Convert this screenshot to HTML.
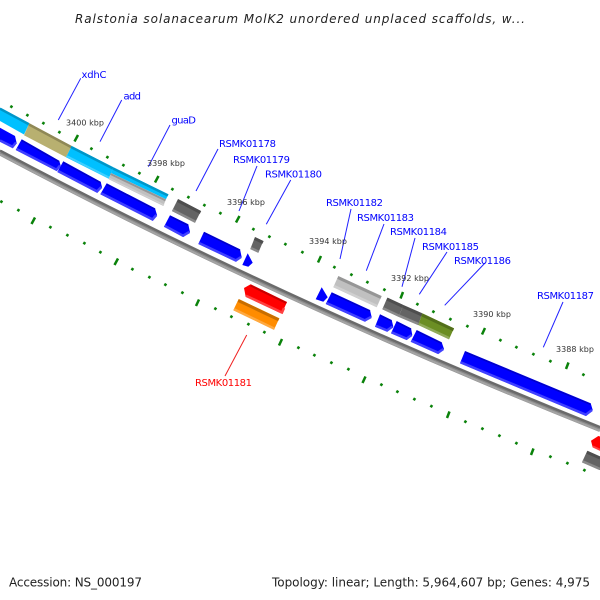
<!DOCTYPE html>
<html><head><meta charset="utf-8"><style>
html,body{margin:0;padding:0;background:#fff}
svg{display:block}
text{font-family:"DejaVu Sans","Liberation Sans",sans-serif}
.l{font-size:10px;fill:#0000ff}
.k{font-size:8px;fill:#333}
.f{font-size:12px;fill:#222}
.d line{stroke:#0a820a;stroke-width:2.6;stroke-linecap:butt}
.m line{stroke:#0a820a;stroke-width:2.5}
.c line{stroke:#2020ff;stroke-width:1}
</style></head><body>
<svg width="600" height="600" viewBox="0 0 600 600" xmlns="http://www.w3.org/2000/svg">
<rect width="600" height="600" fill="#fff"/>
<text x="75" y="23" font-size="12" font-style="italic" fill="#222" textLength="450" lengthAdjust="spacing">Ralstonia solanacearum MolK2 unordered unplaced scaffolds, w...</text>

<!-- backbone -->
<path d="M0,152.5 C200,258.5 400,349 600,429" fill="none" stroke="#888" stroke-width="6"/>
<path d="M0,150.6 C200,256.6 400,347.2 600,427.2" fill="none" stroke="#6a6a6a" stroke-width="2.2"/>
<path d="M0,154.4 C200,260.4 400,350.8 600,430.8" fill="none" stroke="#a4a4a4" stroke-width="2"/>

<!-- outer ticks -->
<g class="d">
<line x1="10.7" y1="107.8" x2="12.1" y2="105.6"/><line x1="26.7" y1="116.3" x2="28.1" y2="114.1"/><line x1="42.7" y1="124.3" x2="44.1" y2="122.1"/><line x1="58.7" y1="133.3" x2="60.1" y2="131.1"/>
<line x1="90.7" y1="149.8" x2="92.1" y2="147.6"/><line x1="106.7" y1="158.3" x2="108.1" y2="156.1"/><line x1="122.7" y1="166.3" x2="124.1" y2="164.1"/><line x1="138.7" y1="174.3" x2="140.1" y2="172.1"/>
<line x1="171.7" y1="190.3" x2="173.1" y2="188.1"/><line x1="187.7" y1="198.3" x2="189.1" y2="196.1"/><line x1="203.7" y1="206.3" x2="205.1" y2="204.1"/><line x1="219.7" y1="214.3" x2="221.1" y2="212.1"/>
<line x1="252.7" y1="230.3" x2="254.1" y2="228.1"/><line x1="268.7" y1="237.8" x2="270.1" y2="235.6"/><line x1="284.7" y1="245.3" x2="286.1" y2="243.1"/><line x1="301.7" y1="253.3" x2="303.1" y2="251.1"/>
<line x1="333.7" y1="268.3" x2="335.1" y2="266.1"/><line x1="350.7" y1="275.8" x2="352.1" y2="273.6"/><line x1="366.7" y1="283.3" x2="368.1" y2="281.1"/><line x1="383.7" y1="290.8" x2="385.1" y2="288.6"/>
<line x1="416.7" y1="305.3" x2="418.1" y2="303.1"/><line x1="432.7" y1="312.8" x2="434.1" y2="310.6"/><line x1="449.7" y1="320.3" x2="451.1" y2="318.1"/><line x1="466.7" y1="327.3" x2="468.1" y2="325.1"/>
<line x1="499.7" y1="341.3" x2="501.1" y2="339.1"/><line x1="515.7" y1="348.3" x2="517.1" y2="346.1"/><line x1="532.7" y1="355.3" x2="534.1" y2="353.1"/><line x1="549.7" y1="362.3" x2="551.1" y2="360.1"/>
<line x1="582.7" y1="375.8" x2="584.1" y2="373.6"/>
<!-- inner ticks -->
<line x1="0.7" y1="202.8" x2="2.1" y2="200.6"/><line x1="17.7" y1="211.3" x2="19.1" y2="209.1"/><line x1="49.7" y1="228.3" x2="51.1" y2="226.1"/><line x1="66.7" y1="236.3" x2="68.1" y2="234.1"/>
<line x1="83.7" y1="244.3" x2="85.1" y2="242.1"/><line x1="99.7" y1="253.3" x2="101.1" y2="251.1"/><line x1="131.7" y1="270.3" x2="133.1" y2="268.1"/><line x1="148.7" y1="278.3" x2="150.1" y2="276.1"/>
<line x1="164.7" y1="285.8" x2="166.1" y2="283.6"/><line x1="181.7" y1="293.8" x2="183.1" y2="291.6"/><line x1="214.7" y1="309.8" x2="216.1" y2="307.6"/><line x1="230.7" y1="317.8" x2="232.1" y2="315.6"/>
<line x1="247.7" y1="325.3" x2="249.1" y2="323.1"/><line x1="263.7" y1="333.3" x2="265.1" y2="331.1"/><line x1="297.7" y1="348.8" x2="299.1" y2="346.6"/><line x1="313.7" y1="356.3" x2="315.1" y2="354.1"/>
<line x1="330.7" y1="363.8" x2="332.1" y2="361.6"/><line x1="347.7" y1="370.3" x2="349.1" y2="368.1"/><line x1="380.7" y1="385.8" x2="382.1" y2="383.6"/><line x1="396.7" y1="392.8" x2="398.1" y2="390.6"/>
<line x1="413.7" y1="400.3" x2="415.1" y2="398.1"/><line x1="430.7" y1="407.3" x2="432.1" y2="405.1"/><line x1="464.7" y1="422.8" x2="466.1" y2="420.6"/><line x1="481.7" y1="429.8" x2="483.1" y2="427.6"/>
<line x1="498.7" y1="436.8" x2="500.1" y2="434.6"/><line x1="515.7" y1="444.3" x2="517.1" y2="442.1"/><line x1="549.7" y1="457.8" x2="551.1" y2="455.6"/><line x1="566.7" y1="464.3" x2="568.1" y2="462.1"/>
<line x1="583.7" y1="471.3" x2="585.1" y2="469.1"/>
</g>
<g class="m">
<line x1="74.5" y1="141.5" x2="78" y2="135"/><line x1="155" y1="182.5" x2="158.5" y2="176"/><line x1="236" y1="222.5" x2="239.5" y2="216"/><line x1="318" y1="262.5" x2="321" y2="256"/>
<line x1="400.5" y1="298.5" x2="403" y2="292"/><line x1="482" y1="334.5" x2="485" y2="328"/><line x1="566" y1="369" x2="568.5" y2="362.5"/>
<line x1="31.5" y1="224" x2="35" y2="217.5"/><line x1="114.5" y1="265" x2="118" y2="258.5"/><line x1="196" y1="306" x2="199" y2="299.5"/><line x1="279" y1="345.5" x2="282" y2="339"/>
<line x1="362.5" y1="383" x2="365.5" y2="376.5"/><line x1="447" y1="418" x2="449.5" y2="411.5"/><line x1="531" y1="455" x2="533.5" y2="448.5"/>
</g>

<!-- upper strand genes -->
<polygon points="0,107.7 29.3,123.3 24,134.5 0,121" fill="#00c0ff"/>
<polyline points="0,108.7 29,124.3" stroke="#0096c8" stroke-width="2.5" fill="none"/>
<polygon points="29.3,123.3 71.7,146 66,157.3 24,135.3" fill="#b8b070"/>
<line x1="29" y1="124.5" x2="71" y2="147" stroke="#8f8856" stroke-width="2.5"/>
<polygon points="71.7,146 113.3,167.3 108.7,178.7 66,157.3" fill="#00c0ff"/>
<line x1="71" y1="147" x2="113" y2="168.5" stroke="#0096c8" stroke-width="2.5"/>
<line x1="66.5" y1="156" x2="109" y2="177.5" stroke="#40d0ff" stroke-width="2"/>
<polygon points="113.3,167.3 168.3,194.3 166,199.3 111,173" fill="#00c0ff"/>
<line x1="113" y1="168.5" x2="168" y2="195.5" stroke="#0096c8" stroke-width="2.5"/>
<polygon points="111,173 166,199.3 163.3,206 108.7,179.3" fill="#c0c0c0"/>
<line x1="110.5" y1="174" x2="165.5" y2="200.3" stroke="#969696" stroke-width="2"/>
<line x1="109.5" y1="178.5" x2="164" y2="205" stroke="#d0d0d0" stroke-width="1.5"/>
<polygon points="178,199 201,211 195,222.7 172,211" fill="#646464"/>
<line x1="177.5" y1="200.5" x2="200.5" y2="212.5" stroke="#4e4e4e" stroke-width="3"/>
<line x1="172.5" y1="210" x2="195.5" y2="221.7" stroke="#8a8a8a" stroke-width="2.5"/>
<polygon points="255,237 263.3,241 258.3,252.7 250.3,249" fill="#646464"/>
<line x1="254.5" y1="238.5" x2="263" y2="242.5" stroke="#4e4e4e" stroke-width="3"/>
<line x1="250.8" y1="248" x2="258.8" y2="251.7" stroke="#8a8a8a" stroke-width="2.5"/>
<polygon points="338.3,276 381.7,296 376.7,307.3 333.3,287.3" fill="#c0c0c0"/>
<line x1="337.8" y1="277.5" x2="381" y2="297.5" stroke="#969696" stroke-width="3"/>
<line x1="334" y1="286" x2="377" y2="306" stroke="#d0d0d0" stroke-width="2.5"/>
<polygon points="387.3,297.7 403.3,305 398.7,316.7 382.3,309.3" fill="#646464"/>
<line x1="387" y1="299" x2="403" y2="306.5" stroke="#4e4e4e" stroke-width="3"/>
<line x1="383" y1="308.3" x2="399" y2="315.7" stroke="#8a8a8a" stroke-width="2.5"/>
<polygon points="403.3,305 422.3,313.3 418.3,325 398.7,316.7" fill="#646464"/>
<line x1="403" y1="306.5" x2="422" y2="315" stroke="#4e4e4e" stroke-width="3"/>
<line x1="399" y1="315.7" x2="418.5" y2="324" stroke="#8a8a8a" stroke-width="2.5"/>
<polygon points="422.3,313.3 454,328.3 449,339.3 418.3,325" fill="#6b8e23"/>
<line x1="422" y1="315" x2="453.5" y2="329.8" stroke="#536f1b" stroke-width="3"/>
<line x1="419" y1="324" x2="449.5" y2="338.3" stroke="#90aa5a" stroke-width="2.5"/>
<polygon points="587.3,450.7 600,456.5 600,470 582,462.3" fill="#646464"/>
<line x1="587" y1="452.2" x2="600" y2="458" stroke="#4e4e4e" stroke-width="3"/>
<line x1="582.5" y1="461.3" x2="600" y2="469" stroke="#8a8a8a" stroke-width="2.5"/>

<!-- blue genes -->
<g stroke="none" fill="#0000ff">
<polygon points="0,127.7 15,136 16.7,143.3 12.7,148 0,141.7"/>
<polygon points="21.7,139.3 59.3,160.7 60.7,166 56.7,171 15.7,150"/>
<polygon points="63.3,161.3 100.7,181.7 102,187.3 97.3,192.7 57.3,172"/>
<polygon points="106.7,183.3 155,208.3 157,215 152.7,220.7 100.3,194.3"/>
<polygon points="170,215.3 188.3,224.3 190,232.3 183.3,237 164,226.7"/>
<polygon points="204,231.7 240,249.3 241.7,257.3 236,261.7 198.3,244"/>
<polygon points="247.7,253.3 252.7,262.7 248.3,266.7 242.3,265"/>
<polygon points="321.7,287.3 327.7,297.3 323.3,301.7 315.7,299.3"/>
<polygon points="331.7,292.3 370,310 371.7,317.3 365,321.7 325.7,304"/>
<polygon points="380,314.3 391.7,320 393.3,326.7 387.3,331.7 375,326.7"/>
<polygon points="396.7,321 411,328.3 412.3,335 406.7,340 391,333.3"/>
<polygon points="416.7,330 441.7,342.3 444,349 438.3,354 410.7,341.7"/>
<polygon points="465,351 590.7,403.3 592.7,410 586,416 460,363.3"/>
</g>
<g stroke="#4040ff" stroke-width="2.5" fill="none">
<polyline points="0,140.5 12.5,146.8 16,142.5"/>
<polyline points="16.5,149 56.5,169.7 60,165.5"/>
<polyline points="58,171 97,191.4 101.3,187"/>
<polyline points="101,193.2 152.5,219.4 156.3,215"/>
<polyline points="164.5,225.7 183,235.7 189.3,232"/>
<polyline points="199,243 235.8,260.4 241,257"/>
<polyline points="326.5,303 364.8,320.4 371,317"/>
<polyline points="375.6,325.7 387,330.4 392.6,326.5"/>
<polyline points="391.6,332.3 406.5,338.7 411.6,335"/>
<polyline points="411.3,340.7 438,352.7 443.3,349"/>
<polyline points="460.6,362.3 585.8,414.7 592,410"/>
</g>
<g stroke="#0000c8" stroke-width="1.5" fill="none">
<line x1="21.5" y1="140.3" x2="59" y2="161.7"/><line x1="63" y1="162.3" x2="100.5" y2="182.7"/><line x1="106.5" y1="184.3" x2="155" y2="209.3"/>
<line x1="170" y1="216.3" x2="188" y2="225.3"/><line x1="204" y1="232.7" x2="240" y2="250.3"/><line x1="331.5" y1="293.3" x2="370" y2="311"/>
<line x1="380" y1="315.3" x2="391.5" y2="321"/><line x1="396.5" y1="322" x2="411" y2="329.3"/><line x1="416.5" y1="331" x2="441.5" y2="343.3"/><line x1="465" y1="352" x2="590.5" y2="404.3"/>
</g>

<!-- red / orange -->
<polygon points="250.7,284.3 287,302 281.7,313.7 245.7,296.7 244,288" fill="#ff0000"/>
<polyline points="250.5,285.5 286.5,303" stroke="#c80000" stroke-width="2" fill="none"/>
<polyline points="246,295.7 282,312.5 284,308" stroke="#ff4040" stroke-width="2.5" fill="none"/>
<polygon points="238.7,299 279.3,318.3 274,329.7 233.3,310.3" fill="#ff8c00"/>
<line x1="238.2" y1="300.5" x2="278.7" y2="319.8" stroke="#c86e00" stroke-width="3"/>
<line x1="234" y1="309.3" x2="274.5" y2="328.7" stroke="#ffa940" stroke-width="2.5"/>
<polygon points="598.3,436 591,440.7 592.7,447.3 600,450.7 600,436.5" fill="#ff0000"/>
<polyline points="593,446.5 600,449.7" stroke="#ff4040" stroke-width="2" fill="none"/>

<!-- connectors -->
<g class="c">
<line x1="80.7" y1="78.3" x2="58.3" y2="120"/>
<line x1="121.7" y1="100" x2="100" y2="141.7"/>
<line x1="170" y1="125" x2="148.3" y2="166.7"/>
<line x1="218" y1="149" x2="196" y2="191"/>
<line x1="257" y1="166" x2="239" y2="211"/>
<line x1="290.7" y1="180" x2="266.3" y2="224.3"/>
<line x1="351" y1="209" x2="340" y2="259"/>
<line x1="384" y1="224" x2="366.3" y2="270.7"/>
<line x1="415" y1="238" x2="402" y2="286.7"/>
<line x1="447" y1="252" x2="419.3" y2="294.3"/>
<line x1="485" y1="263" x2="444.7" y2="305.3"/>
<line x1="563" y1="302" x2="543.3" y2="347.3"/>
<line x1="246.7" y1="335" x2="225" y2="376" style="stroke:#f02020"/>
</g>

<!-- labels -->
<text class="l" x="81.5" y="78" textLength="25" lengthAdjust="spacing">xdhC</text>
<text class="l" x="123.5" y="99.5" textLength="17.5" lengthAdjust="spacing">add</text>
<text class="l" x="171.5" y="123.5" textLength="24.5" lengthAdjust="spacing">guaD</text>
<text class="l" x="219" y="147" textLength="57" lengthAdjust="spacing">RSMK01178</text>
<text class="l" x="233" y="163" textLength="57" lengthAdjust="spacing">RSMK01179</text>
<text class="l" x="265" y="177.5" textLength="57" lengthAdjust="spacing">RSMK01180</text>
<text class="l" x="326" y="206" textLength="57" lengthAdjust="spacing">RSMK01182</text>
<text class="l" x="357" y="221" textLength="57" lengthAdjust="spacing">RSMK01183</text>
<text class="l" x="390" y="235" textLength="57" lengthAdjust="spacing">RSMK01184</text>
<text class="l" x="422" y="250" textLength="57" lengthAdjust="spacing">RSMK01185</text>
<text class="l" x="454" y="264" textLength="57" lengthAdjust="spacing">RSMK01186</text>
<text class="l" x="537" y="299" textLength="57" lengthAdjust="spacing">RSMK01187</text>
<text class="l" x="195" y="386" textLength="57" lengthAdjust="spacing" style="fill:#ff0000">RSMK01181</text>

<text class="k" x="66" y="125.5" textLength="38" lengthAdjust="spacing">3400 kbp</text>
<text class="k" x="147" y="166" textLength="38" lengthAdjust="spacing">3398 kbp</text>
<text class="k" x="227" y="205" textLength="38" lengthAdjust="spacing">3396 kbp</text>
<text class="k" x="309" y="244" textLength="38" lengthAdjust="spacing">3394 kbp</text>
<text class="k" x="391" y="281" textLength="38" lengthAdjust="spacing">3392 kbp</text>
<text class="k" x="473" y="317" textLength="38" lengthAdjust="spacing">3390 kbp</text>
<text class="k" x="556" y="352" textLength="38" lengthAdjust="spacing">3388 kbp</text>

<text class="f" x="9" y="586.5" textLength="133" lengthAdjust="spacing">Accession: NS_000197</text>
<text class="f" x="272" y="586.5" textLength="318" lengthAdjust="spacing">Topology: linear; Length: 5,964,607 bp; Genes: 4,975</text>
</svg>
</body></html>
